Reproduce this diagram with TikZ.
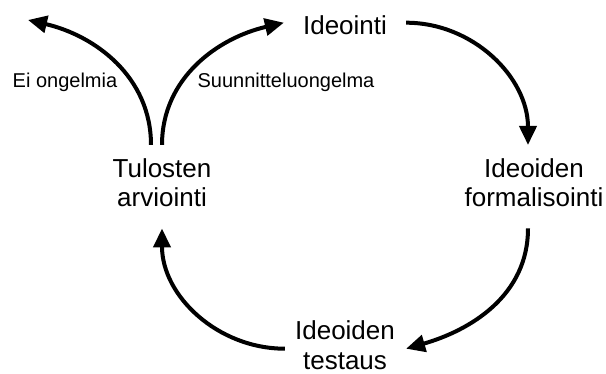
\documentclass[tikz,border=0pt]{standalone}
\usepackage{fontspec}
\setmainfont{Liberation Sans}
\usetikzlibrary{arrows.meta}
\tikzset{
	stage/.style={align=center, inner sep=0pt, anchor=base, font=\fontsize{26}{30}\selectfont},
	verdict/.style={inner sep=0pt, anchor=base, font=\fontsize{20}{24}\selectfont},
	flow/.style={line width=4pt, -{Triangle[length=19pt, width=17pt]}}
}

\begin{document}
\begin{tikzpicture}[x=1pt, y=1pt]
			%%%%% START %%%%%
			
			\useasboundingbox (0, 0) rectangle (606, 373);
			
			% base of a two-line node is its last line
			\node[stage] (ideo) at (345, 338) {Ideointi};
			\node[stage] (form) at (534, 166) {Ideoiden\\formalisointi};
			\node[stage] (test) at (345, 4) {Ideoiden\\testaus};
			\node[stage] (tulos) at (162, 166) {Tulosten\\arviointi};
			
			\node[verdict] (eiong) at (65, 285) {Ei ongelmia};
			\node[verdict] (suong) at (286, 285) {Suunnitteluongelma};
			
			\coordinate (valmis) at (28, 353);
			
			\draw[flow] ([xshift=-11, yshift=13]tulos.north) to[out=90, in=-13] (valmis);
			\draw[flow] ([yshift=13]tulos.north) to[out=90, in=193] ([xshift=-19, yshift=3]ideo.west);
			\draw[flow] ([xshift=19, yshift=3]ideo.east) to[out=0, in=90] ([xshift=-6, yshift=13]form.north);
			\draw[flow] ([xshift=-6, yshift=-21]form.south) to[out=-90, in=16] ([xshift=11, yshift=-4]test.east);
			\draw[flow] ([xshift=-10, yshift=-4]test.west) to[out=180, in=-90] ([yshift=-21]tulos.south);
			
			%%%%% END %%%%%
\end{tikzpicture}
\end{document}
